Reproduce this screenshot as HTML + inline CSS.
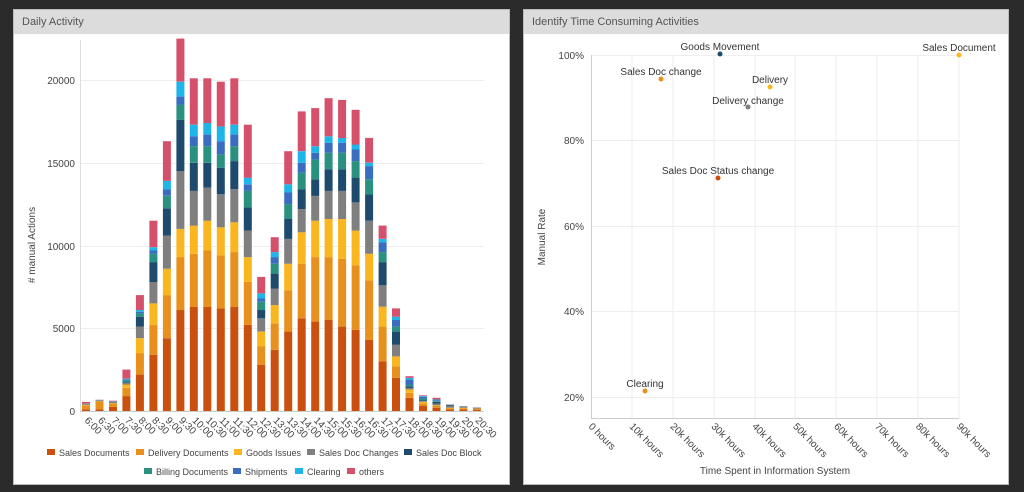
<!DOCTYPE html>
<html><head><meta charset="utf-8"><style>
body{margin:0;background:#2b2b2b;width:1024px;height:492px;overflow:hidden;font-family:"Liberation Sans",sans-serif}
.p{position:absolute;background:#fff;border:1px solid #bbb}
.h{height:24px;background:#dcdcdc;color:#555;font-size:11px;line-height:24px;padding-left:8px}
svg{position:absolute;left:0;top:0}
</style></head><body>
<div class="p" style="left:13px;top:9px;width:495px;height:474px"><div class="h">Daily Activity</div></div>
<div class="p" style="left:523px;top:9px;width:484px;height:474px"><div class="h">Identify Time Consuming Activities</div></div>
<svg width="1024" height="492" font-family="Liberation Sans, sans-serif" font-size="10" fill="#444">
<g stroke="#eee" stroke-width="1">
<line x1="80" y1="80.5" x2="484" y2="80.5"/><line x1="80" y1="163.5" x2="484" y2="163.5"/><line x1="80" y1="246.5" x2="484" y2="246.5"/><line x1="80" y1="328.5" x2="484" y2="328.5"/>
</g>
<line x1="80.5" y1="40" x2="80.5" y2="411" stroke="#ddd"/>
<line x1="80" y1="411.5" x2="484" y2="411.5" stroke="#ccc"/>
<g text-anchor="end"><text x="75" y="84">20000</text><text x="75" y="167">15000</text><text x="75" y="250">10000</text><text x="75" y="332">5000</text><text x="75" y="415">0</text></g>
<text transform="translate(35,245) rotate(-90)" text-anchor="middle">
# manual Actions</text>
<g id="bars"></g>
<g id="xl" font-size="10"></g>
<g font-size="9">
<rect x="47" y="449" width="8" height="6" fill="#c9500f"/><text x="59" y="456">Sales Documents</text>
<rect x="136" y="449" width="8" height="6" fill="#e8901d"/><text x="148" y="456">Delivery Documents</text>
<rect x="234" y="449" width="8" height="6" fill="#f9b61e"/><text x="246" y="456">Goods Issues</text>
<rect x="307" y="449" width="8" height="6" fill="#7f7f7f"/><text x="319" y="456">Sales Doc Changes</text>
<rect x="404" y="449" width="8" height="6" fill="#1e4a6e"/><text x="416" y="456">Sales Doc Block</text>
<rect x="144" y="468" width="8" height="6" fill="#2a9080"/><text x="156" y="475">Billing Documents</text>
<rect x="233" y="468" width="8" height="6" fill="#3a6dbf"/><text x="245" y="475">Shipments</text>
<rect x="295" y="468" width="8" height="6" fill="#20b5e8"/><text x="307" y="475">Clearing</text>
<rect x="347" y="468" width="8" height="6" fill="#d5506a"/><text x="359" y="475">others</text>
</g>
<g stroke="#eee">
<line x1="591" y1="55.5" x2="959" y2="55.5"/><line x1="591" y1="140.5" x2="959" y2="140.5"/><line x1="591" y1="226.5" x2="959" y2="226.5"/><line x1="591" y1="311.5" x2="959" y2="311.5"/><line x1="591" y1="397.5" x2="959" y2="397.5"/>
<line x1="632" y1="55" x2="632" y2="418"/><line x1="673" y1="55" x2="673" y2="418"/><line x1="714" y1="55" x2="714" y2="418"/><line x1="755" y1="55" x2="755" y2="418"/><line x1="795" y1="55" x2="795" y2="418"/><line x1="836" y1="55" x2="836" y2="418"/><line x1="877" y1="55" x2="877" y2="418"/><line x1="918" y1="55" x2="918" y2="418"/><line x1="959" y1="55" x2="959" y2="418"/>
</g>
<line x1="591.5" y1="55" x2="591.5" y2="418" stroke="#ccc"/>
<line x1="591" y1="418.5" x2="959" y2="418.5" stroke="#ccc"/>
<g text-anchor="end"><text x="584" y="59">100%</text><text x="584" y="144">80%</text><text x="584" y="230">60%</text><text x="584" y="315">40%</text><text x="584" y="401">20%</text></g>
<g id="rx"></g>
<text x="775" y="474" text-anchor="middle">Time Spent in Information System</text>
<text transform="translate(545,237) rotate(-90)" text-anchor="middle">Manual Rate</text>
<g text-anchor="middle" fill="#333">
<circle cx="720" cy="54" r="2.5" fill="#1e4a6e"/><text x="720" y="50">Goods Movement</text>
<circle cx="959" cy="55" r="2.5" fill="#f9b61e"/><text x="959" y="51">Sales Document</text>
<circle cx="661" cy="79" r="2.5" fill="#e8901d"/><text x="661" y="75">Sales Doc change</text>
<circle cx="770" cy="87" r="2.5" fill="#f9b61e"/><text x="770" y="83">Delivery</text>
<circle cx="748" cy="107" r="2.5" fill="#7f7f7f"/><text x="748" y="104">Delivery change</text>
<circle cx="718" cy="178" r="2.5" fill="#c9500f"/><text x="718" y="174">Sales Doc Status change</text>
<circle cx="645" cy="391" r="2.5" fill="#e8901d"/><text x="645" y="387">Clearing</text>
</g>
</svg>
<script>
var D=[[100,350,380,400,420,430,440,450,550],[100,600,620,630,640,650,660,670,680],[250,450,480,550,560,570,580,590,620],[900,1400,1600,1700,1750,1850,1900,1950,2500],[2200,3500,4400,5100,5700,5900,6000,6100,7000],[3400,5200,6500,7800,9000,9500,9700,9900,11500],[4400,7000,8600,10600,12250,13000,13400,13900,16300],[6100,9300,11000,14500,17600,18500,19000,19900,22500],[6300,9500,11200,13300,15000,16000,16600,17300,20100],[6300,9700,11500,13500,15000,16000,16700,17400,20100],[6200,9400,11100,13100,14700,15500,16300,17200,19900],[6300,9600,11400,13400,15100,16000,16700,17300,20100],[5200,7800,9300,10900,12300,13300,13700,14100,17300],[2800,3900,4800,5600,6100,6600,6800,7100,8100],[3700,5300,6400,7400,8300,8900,9300,9600,10500],[4800,7300,8900,10400,11600,12500,13200,13700,15700],[5600,8900,10800,12200,13400,14400,15000,15700,18100],[5400,9300,11500,13000,14000,15200,15600,16000,18300],[5500,9300,11600,13300,14600,15600,16200,16600,18900],[5100,9200,11600,13300,14600,15600,16200,16500,18800],[4900,8800,10900,12600,14100,15100,15800,16100,18200],[4300,7900,9500,11500,13100,14000,14800,15000,16500],[3000,5100,6300,7600,9000,9600,10200,10400,11200],[2000,2700,3300,4000,4800,5100,5500,5700,6200],[800,1100,1300,1400,1500,1600,1900,2000,2100],[300,450,550,600,650,750,850,900,950],[200,300,350,450,550,600,650,700,800],[100,150,200,300,350,370,380,390,400],[100,150,200,250,260,270,280,290,300],[80,120,150,180,190,200,205,210,220]];
var C=["#c9500f","#e8901d","#f9b61e","#7f7f7f","#1e4a6e","#2a9080","#3a6dbf","#20b5e8","#d5506a"];
var s="",k=331/20000,t="";
D.forEach(function(b,i){var x=86+i*13.48-4,p=0;b.forEach(function(v,j){var y1=411-v*k,y0=411-p*k;if(v>p)s+='<rect x="'+x.toFixed(1)+'" y="'+y1.toFixed(1)+'" width="8" height="'+(y0-y1).toFixed(1)+'" fill="'+C[j]+'"/>';p=v;});
var h=6+Math.floor(i/2),l=h+":"+(i%2?"30":"00");t+='<text transform="translate('+(x+2).toFixed(1)+',421) rotate(45)">'+l+'</text>';});
document.getElementById("bars").innerHTML=s;document.getElementById("xl").innerHTML=t;
var r="";for(var i=0;i<10;i++){var x=591+i*40.9;r+='<text transform="translate('+(x-3).toFixed(1)+',427) rotate(45)">'+(i?i+"0k hours":"0 hours")+'</text>';}
document.getElementById("rx").innerHTML=r;
</script>
</body></html>
